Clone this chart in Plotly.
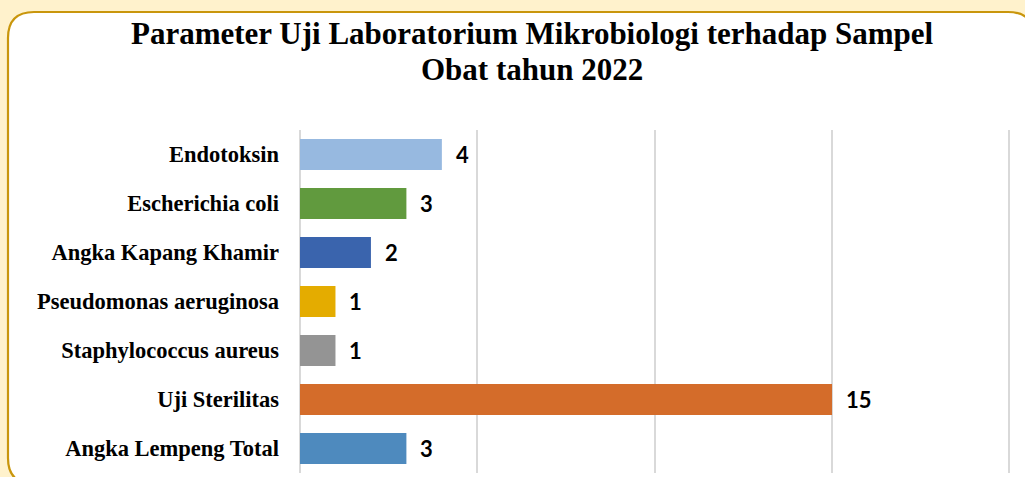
import plotly.graph_objects as go

# ---- data (top-to-bottom order as displayed) ----
categories = [
    "Endotoksin",
    "Escherichia coli",
    "Angka Kapang Khamir",
    "Pseudomonas aeruginosa",
    "Staphylococcus aureus",
    "Uji Sterilitas",
    "Angka Lempeng Total",
]
values = [4, 3, 2, 1, 1, 15, 3]
bar_colors = ["#97B9E0", "#619A3E", "#3A64AD", "#E4AC00", "#949494", "#D46C2A", "#4E8ABE"]
x_ticks = [0, 5, 10, 15, 20]
title_lines = ["Parameter Uji Laboratorium Mikrobiologi terhadap Sampel", "Obat tahun 2022"]

# ---- layout constants (pixels) ----
W, H = 1025, 477
L, R, T, B = 300, 5, 130, 4
plot_w = W - L - R
plot_h = H - T - B

def px_to_paper_x(px):
    return (px - L) / plot_w

def px_to_paper_y(py):
    return 1 - (py - T) / plot_h

fig = go.Figure()
fig.add_trace(go.Bar(
    y=categories,
    x=values,
    orientation="h",
    marker=dict(color=bar_colors, line=dict(width=0)),
    hoverinfo="skip",
))

# data labels
for c, v in zip(categories, values):
    fig.add_annotation(
        x=v, y=c, xref="x", yref="y",
        text=f"<b>{v}</b>", showarrow=False,
        xanchor="left", yanchor="middle", xshift=12,
        font=dict(family="Lato", size=22, color="#000000"),
    )

# title (two lines placed individually)
for line, cy in zip(title_lines, [34, 69]):
    fig.add_annotation(
        x=px_to_paper_x(532), y=px_to_paper_y(cy), xref="paper", yref="paper",
        text=f"<b>{line}</b>", showarrow=False,
        xanchor="center", yanchor="middle",
        font=dict(family="Liberation Serif", size=31, color="#000000"),
    )

# rounded border panel
x0, y0, x1, y1, r = 8, 12, 1034, 484, 26
pts = [
    ("M", [(x0, y0 + r)]),
    ("Q", [(x0, y0), (x0 + r, y0)]),
    ("L", [(x1 - r, y0)]),
    ("Q", [(x1, y0), (x1, y0 + r)]),
    ("L", [(x1, y1 - r)]),
    ("Q", [(x1, y1), (x1 - r, y1)]),
    ("L", [(x0 + r, y1)]),
    ("Q", [(x0, y1), (x0, y1 - r)]),
]
path = ""
for cmd, ps in pts:
    path += cmd + " " + " ".join(f"{px_to_paper_x(a):.5f},{px_to_paper_y(b):.5f}" for a, b in ps) + " "
path += "Z"
fig.add_shape(
    type="path", path=path, xref="paper", yref="paper",
    fillcolor="#FFFFFF", line=dict(color="#C9960C", width=2.2), layer="below",
)

fig.update_layout(
    width=W, height=H,
    margin=dict(l=L, r=R, t=T, b=B, pad=0),
    paper_bgcolor="#FFF2CC",
    plot_bgcolor="rgba(0,0,0,0)",
    showlegend=False,
    bargap=0.37,
    xaxis=dict(
        range=[0, 20.3], tickvals=x_ticks, showticklabels=False,
        showgrid=True, gridcolor="#D9D9D9", gridwidth=1.6,
        zeroline=True, zerolinecolor="#D9D9D9", zerolinewidth=1.6,
        showline=False, fixedrange=True,
    ),
    yaxis=dict(
        autorange="reversed", showgrid=False, zeroline=False, showline=False,
        ticks="", ticklabelstandoff=20,
        tickfont=dict(family="Liberation Serif", size=22.5, color="#000000"),
        tickprefix="<b>", ticksuffix="</b>",
        fixedrange=True,
    ),
)

fig.write_html(
    "out.html",
    config={"displayModeBar": False},
    post_script="document.body.style.margin='0';document.body.style.overflow='hidden';document.body.style.background='#FFF2CC';",
)
